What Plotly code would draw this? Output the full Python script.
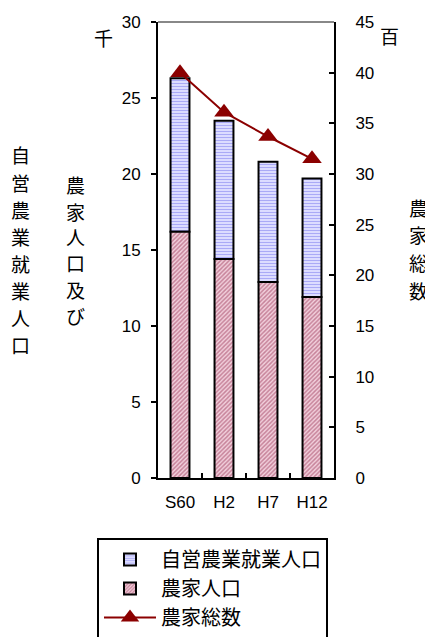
import plotly.graph_objects as go

categories = ["S60", "H2", "H7", "H12"]
farm_pop = [16.2, 14.4, 12.9, 11.9]          # 農家人口 (千)
self_emp_extra = [10.1, 9.1, 7.9, 7.8]       # 自営農業就業人口 segment (千)
farm_households = [40.0, 36.1, 33.7, 31.5]   # 農家総数 (百)

font_jp = "Noto Sans CJK JP"
font_num = "Liberation Sans, Arial"

# page has an 8px body margin; reference pixel coords -> figure paper coords
PL, PR, PT, PB = 158, 334, 22, 478
def px(x):
    return (x - PL) / (PR - PL)
def py(y):
    return (PB - y) / (PB - PT)

fig = go.Figure()
fig.add_trace(go.Bar(
    x=categories, y=self_emp_extra, base=farm_pop, name="自営農業就業人口",
    legendgroup="a",
    marker=dict(color="#ccccff", line=dict(color="black", width=2),
                pattern=dict(shape="-", fgcolor="#7777ee", bgcolor="#dcdcff", size=3, solidity=0.35)),
    width=0.43,
))
fig.add_trace(go.Bar(
    x=categories, y=farm_pop, name="農家人口",
    legendgroup="b",
    marker=dict(color="#ffccdd", line=dict(color="black", width=2),
                pattern=dict(shape="/", fgcolor="#993355", bgcolor="#f2d0dc", size=3, solidity=0.5)),
    width=0.43,
))
fig.add_trace(go.Scatter(
    x=categories, y=farm_households, name="農家総数", yaxis="y2",
    legendgroup="c",
    mode="lines+markers",
    line=dict(color="#8b0000", width=2),
    marker=dict(symbol="triangle-up", size=17, color="#8b0000"),
))

W, H = 425, 629
fig.update_layout(
    width=W, height=H,
    margin=dict(l=PL - 8, r=W - (PR - 8), t=PT - 8, b=H - (PB - 8), autoexpand=False),
    plot_bgcolor="white", paper_bgcolor="white",
    barmode="overlay",
    showlegend=True,
    font=dict(family=font_num, size=17, color="black"),
    xaxis=dict(showline=True, linecolor="black", linewidth=2, automargin=False,
               ticks="inside", tickson="boundaries", ticklen=5, tickwidth=2, tickcolor="black",
               ticklabelstandoff=8,
               tickfont=dict(family=font_num, size=17), showgrid=False, zeroline=False),
    yaxis=dict(range=[0, 30], dtick=5, showline=True, linecolor="black", linewidth=2,
               ticks="outside", ticklen=5, tickwidth=2, tickcolor="black", automargin=False,
               ticklabelstandoff=7,
               showgrid=False, zeroline=False, tickfont=dict(family=font_num, size=17)),
    yaxis2=dict(range=[0, 45], dtick=5, overlaying="y", side="right",
                showline=True, linecolor="black", linewidth=2, automargin=False,
                ticks="inside", ticklen=5, tickwidth=2, tickcolor="black",
                ticklabelstandoff=16,
                showgrid=False, zeroline=False, tickfont=dict(family=font_num, size=17)),
    legend=dict(x=px(97), y=py(538), xanchor="left", yanchor="top",
                bordercolor="black", borderwidth=2, bgcolor="white",
                font=dict(family=font_jp, size=20), traceorder="normal",
                itemwidth=52, tracegroupgap=8,
                entrywidth=245, entrywidthmode="pixels"),
)

fig.add_shape(type="line", xref="paper", yref="paper", x0=0, x1=1, y0=1, y1=1,
              line=dict(color="#888888", width=2))

def vlabel(s, x, y0, step):
    for i, ch in enumerate(s):
        fig.add_annotation(text=ch, xref="paper", yref="paper",
                           x=px(x), y=py(y0 + i * step),
                           showarrow=False, xanchor="center", yanchor="middle",
                           font=dict(family=font_jp, size=19, color="black"))

vlabel("自営農業就業人口", 20, 155, 27.1)
vlabel("農家人口及び", 75, 185, 26)
vlabel("農家総数", 418, 207, 27.7)
vlabel("千", 103, 37, 0)
vlabel("百", 389, 35, 0)

fig.write_html("out.html")
